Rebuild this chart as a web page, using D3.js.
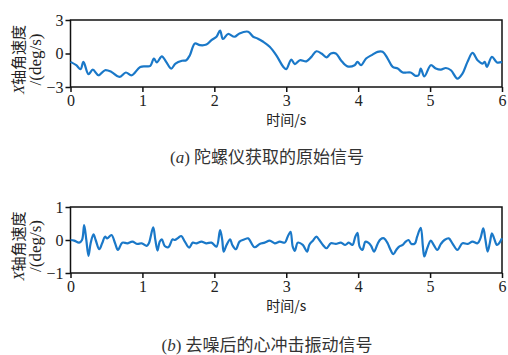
<!DOCTYPE html>
<html>
<head>
<meta charset="utf-8">
<script src="https://cdn.jsdelivr.net/npm/d3@7/dist/d3.min.js"></script>
<style>
  body { margin: 0; background: #fff; }
  svg { display: block; }
</style>
</head>
<body>
<div id="chart"></div>
<script>
// raw gyroscope signal (time s, deg/s)
var rawT = [0, 0.08, 0.14, 0.18, 0.25, 0.31, 0.39, 0.48, 0.57, 0.68, 0.77, 0.85, 0.97, 1.06, 1.11, 1.16, 1.2, 1.27, 1.33, 1.4,
  1.46, 1.55, 1.61, 1.66, 1.73, 1.8, 1.89, 1.96, 2.03, 2.08, 2.12, 2.19, 2.28, 2.35, 2.47, 2.54, 2.6, 2.68, 2.77, 2.86,
  2.96, 3.0, 3.07, 3.12, 3.19, 3.28, 3.35, 3.42, 3.49, 3.56, 3.62, 3.69, 3.76, 3.85, 3.95, 3.99, 4.04, 4.11, 4.2, 4.27,
  4.34, 4.41, 4.48, 4.55, 4.62, 4.73, 4.8, 4.84, 4.87, 4.92, 5.01, 5.08, 5.15, 5.22, 5.29, 5.38, 5.45, 5.52, 5.59, 5.66,
  5.73, 5.76, 5.79, 5.86, 5.93, 6.0];
var rawV = [-0.75, -1.05, -1.4, -0.75, -1.85, -1.45, -1.95, -1.5, -1.65, -2.1, -1.7, -1.95, -1.2, -1.15, -1.1, -0.45, -0.8, -0.25, -0.75, -1.35,
  -0.9, -0.65, -0.6, -0.15, 0.9, 0.75, 0.8, 1.2, 1.5, 2.05, 1.3, 1.75, 1.5, 1.8, 1.95, 1.5, 1.35, 1.05, 0.6, -0.15,
  -1.2, -1.4, -0.55, -0.95, -0.6, -0.7, -0.3, 0.2, 0, -0.35, 0, 0, -0.6, -1.15, -1.05, -0.75, -1.05, -0.45, -0.1, 0.15,
  0.15, -0.45, -1.2, -1.35, -1.7, -1.7, -2.0, -1.95, -1.35, -2.05, -1.05, -1.35, -1.45, -1.3, -1.5, -2.25, -1.8, -0.75, 0.05, -0.6,
  -0.9, -0.75, -1.2, -0.3, -0.8, -0.75];

// denoised BCG signal
var bcgT = [0, 0.05, 0.12, 0.16, 0.19, 0.22, 0.25, 0.28, 0.32, 0.35, 0.4, 0.44, 0.48, 0.51, 0.57, 0.62, 0.66, 0.72, 0.79, 0.86,
  0.93, 0.99, 1.06, 1.09, 1.15, 1.18, 1.21, 1.24, 1.27, 1.31, 1.36, 1.42, 1.45, 1.5, 1.54, 1.59, 1.65, 1.7, 1.75, 1.82,
  1.89, 1.96, 2.03, 2.08, 2.11, 2.13, 2.17, 2.22, 2.25, 2.3, 2.35, 2.42, 2.47, 2.56, 2.63, 2.7, 2.77, 2.84, 2.91, 2.98,
  3.02, 3.06, 3.09, 3.12, 3.16, 3.23, 3.29, 3.32, 3.37, 3.42, 3.46, 3.51, 3.56, 3.62, 3.69, 3.76, 3.82, 3.87, 3.92, 3.96,
  3.99, 4.02, 4.06, 4.1, 4.14, 4.18, 4.22, 4.27, 4.31, 4.36, 4.41, 4.44, 4.49, 4.53, 4.57, 4.62, 4.66, 4.7, 4.74, 4.79,
  4.82, 4.87, 4.9, 4.92, 4.96, 5.01, 5.05, 5.1, 5.15, 5.2, 5.26, 5.31, 5.38, 5.45, 5.52, 5.59, 5.66, 5.7, 5.74, 5.77,
  5.8, 5.83, 5.86, 5.89, 5.93, 5.96, 6.0];
var bcgV = [0, -0.02, -0.08, 0, 0.45, 0, -0.48, -0.1, 0.17, 0, -0.28, -0.1, 0.1, 0.05, 0.15, -0.1, -0.3, -0.08, -0.1, -0.05,
  -0.12, -0.1, -0.18, -0.1, 0.38, 0, -0.32, -0.05, 0.02, -0.18, -0.22, 0.02, 0, 0.07, 0.12, -0.05, -0.23, -0.08, -0.1, -0.05,
  -0.1, -0.08, -0.2, 0.3, 0, -0.35, -0.15, 0.02, -0.15, -0.28, -0.05, 0.02, 0.05, -0.22, -0.12, -0.08, -0.02, -0.1, -0.05, -0.08,
  0.1, 0.25, -0.2, -0.33, -0.08, -0.15, -0.35, -0.15, -0.02, 0.1, 0, -0.15, -0.25, -0.1, -0.12, -0.08, -0.15, -0.08, -0.15, 0.1,
  0.22, -0.2, -0.3, -0.05, -0.08, -0.18, -0.35, -0.12, 0.02, 0.05, -0.1, -0.25, -0.43, -0.3, -0.2, -0.15, -0.05, 0, -0.12, -0.1,
  0.1, 0.37, -0.2, -0.5, -0.25, -0.02, -0.15, -0.3, -0.12, 0, 0.05, -0.1, -0.3, -0.1, -0.12, -0.05, -0.1, 0.05, 0.35, 0,
  -0.35, -0.1, 0.2, 0.05, -0.15, -0.1, 0.05];

var xTicks = [0, 1, 2, 3, 4, 5, 6];
var rawTicks = [-3, 0, 3];
var bcgTicks = [-1, 0, 1];

var W = 508, H = 355;
var serif = '"Liberation Serif", "DejaVu Serif", serif';
var cjk = '"Noto Sans CJK SC", "Liberation Serif", serif';

var svg = d3.select("#chart").append("svg")
    .attr("width", W)
    .attr("height", H);

function panel(top, bottom, tArr, vArr, domain, yTicks, caption, letter, capY) {
  var x = d3.scaleLinear().domain([0, 6]).range([70.5, 502]);
  var y = d3.scaleLinear().domain(domain).range([bottom, top]);
  var data = tArr.map(function(t, i) { return [t, vArr[i]]; });

  var g = svg.append("g");

  // frame
  g.append("rect")
    .attr("x", x(0)).attr("y", top)
    .attr("width", x(6) - x(0)).attr("height", bottom - top)
    .attr("fill", "none").attr("stroke", "#111").attr("stroke-width", 1.5);

  // signal
  g.append("path")
    .datum(data)
    .attr("fill", "none")
    .attr("stroke", "#1a78c8")
    .attr("stroke-width", 2.2)
    .attr("stroke-linejoin", "round")
    .attr("d", d3.line()
      .x(function(d) { return x(d[0]); })
      .y(function(d) { return y(d[1]); })
      .curve(d3.curveCatmullRom));

  // x axis
  var xa = g.append("g")
    .attr("transform", "translate(0," + bottom + ")")
    .call(d3.axisBottom(x).tickValues(xTicks).tickSize(5).tickPadding(3)
      .tickFormat(d3.format("d")));
  xa.select(".domain").remove();
  xa.selectAll("line").attr("stroke", "#111").attr("stroke-width", 1.5);

  // y axis
  var ya = g.append("g")
    .attr("transform", "translate(" + x(0) + ",0)")
    .call(d3.axisLeft(y).tickValues(yTicks).tickSize(5).tickPadding(2)
      .tickFormat(function(d) { return d < 0 ? "\u2212" + (-d) : d; }));
  ya.select(".domain").remove();
  ya.selectAll("line").attr("stroke", "#111").attr("stroke-width", 1.5);

  g.selectAll(".tick text")
    .attr("font-family", serif)
    .attr("font-size", 16)
    .attr("fill", "#222");

  // axis titles
  g.append("text")
    .attr("x", (x(0) + x(6)) / 2).attr("y", bottom + 38)
    .attr("text-anchor", "middle")
    .attr("font-family", cjk).attr("font-size", 14).attr("fill", "#222")
    .text("时间/s");

  var cy = (top + bottom) / 2 + 6;
  var yl = g.append("text")
    .attr("transform", "translate(24," + cy + ") rotate(-90)")
    .attr("text-anchor", "middle")
    .attr("font-family", cjk).attr("font-size", 15).attr("fill", "#222");
  yl.append("tspan").attr("font-family", serif).attr("font-style", "italic").text("X");
  yl.append("tspan").text("轴角速度");
  g.append("text")
    .attr("transform", "translate(41," + cy + ") rotate(-90)")
    .attr("text-anchor", "middle")
    .attr("font-family", serif).attr("font-size", 17).attr("fill", "#222")
    .text("/(deg/s)");

  // caption
  var cap = g.append("text")
    .attr("x", 267).attr("y", capY)
    .attr("text-anchor", "middle")
    .attr("font-family", cjk).attr("font-size", 17).attr("fill", "#333");
  cap.append("tspan").attr("font-family", serif).text("(");
  cap.append("tspan").attr("font-family", serif).attr("font-style", "italic").text(letter);
  cap.append("tspan").attr("font-family", serif).text(") ");
  cap.append("tspan").text(caption);
}

panel(20, 87, rawT, rawV, [-3, 3], rawTicks, "陀螺仪获取的原始信号", "a", 163);
panel(207, 273, bcgT, bcgV, [-1, 1], bcgTicks, "去噪后的心冲击振动信号", "b", 351);
</script>
</body>
</html>
